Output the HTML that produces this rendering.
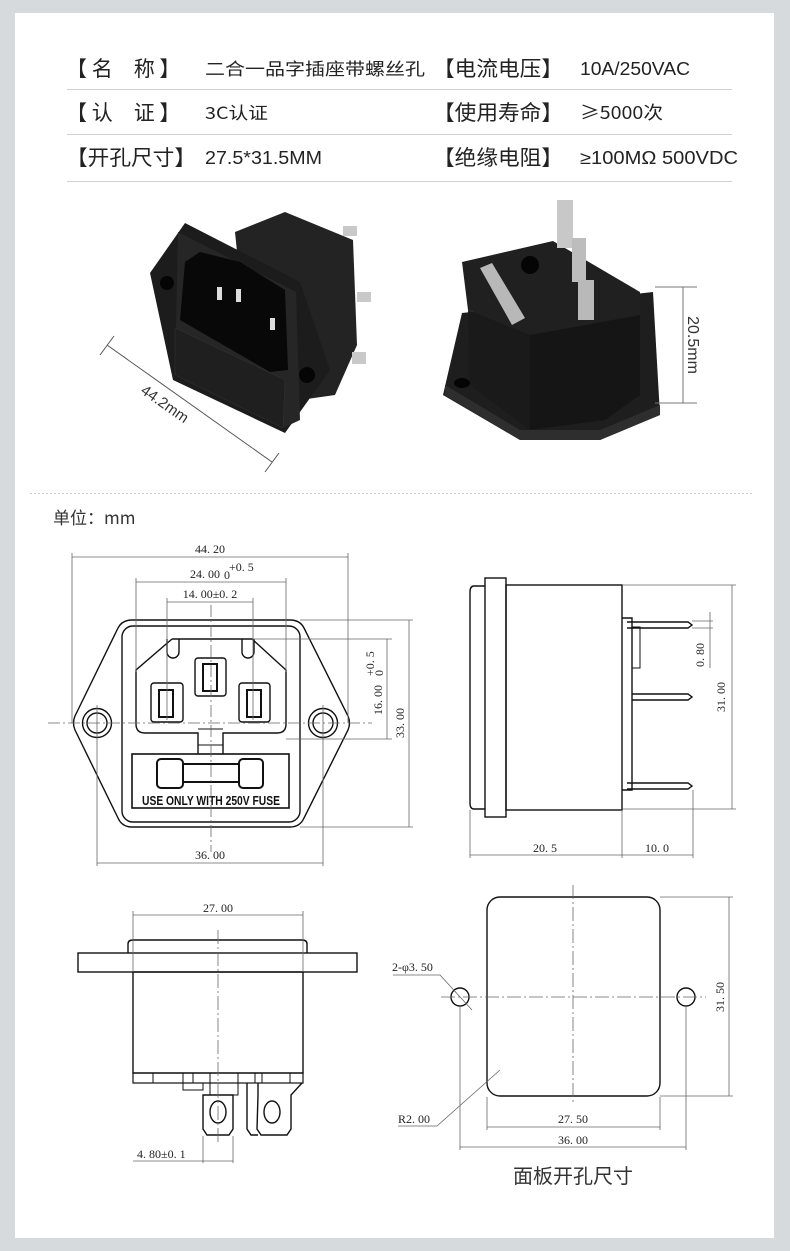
<!DOCTYPE html>
<html><head><meta charset="utf-8"><style>
html,body{margin:0;padding:0;background:#d6dadd;}
svg{display:block;}
text{font-family:"Liberation Sans","Noto Sans CJK SC",sans-serif;}
.cn{font-family:"Noto Sans CJK SC","Liberation Sans",sans-serif;}
.m{font-family:"Liberation Serif","Noto Serif CJK SC",serif;font-size:12px;fill:#222;}
</style></head><body>
<svg width="790" height="1251" viewBox="0 0 790 1251" xmlns="http://www.w3.org/2000/svg">
<rect x="0" y="0" width="790" height="1251" fill="#d6dadd"/>
<rect x="15" y="13" width="759" height="1225" fill="#fff"/>

<!-- table -->
<g fill="#222">
<text x="66" y="76" font-size="21" class="cn">【 名　称 】</text>
<text x="205" y="75" font-size="17" class="cn" textLength="220" lengthAdjust="spacingAndGlyphs">二合一品字插座带螺丝孔</text>
<text x="433" y="76" font-size="21" class="cn" textLength="130" lengthAdjust="spacingAndGlyphs">【电流电压】</text>
<text x="580" y="75" font-size="18" textLength="110" lengthAdjust="spacingAndGlyphs">10A/250VAC</text>
<text x="66" y="120" font-size="21" class="cn">【 认　证 】</text>
<text x="205" y="119" font-size="17" class="cn" textLength="63" lengthAdjust="spacingAndGlyphs">3C认证</text>
<text x="433" y="120" font-size="21" class="cn" textLength="130" lengthAdjust="spacingAndGlyphs">【使用寿命】</text>
<text x="580" y="119" font-size="18" class="cn" textLength="83" lengthAdjust="spacingAndGlyphs">≥5000次</text>
<text x="66" y="165" font-size="21" class="cn" textLength="130" lengthAdjust="spacingAndGlyphs">【开孔尺寸】</text>
<text x="205" y="164" font-size="18" textLength="117" lengthAdjust="spacingAndGlyphs">27.5*31.5MM</text>
<text x="433" y="165" font-size="21" class="cn" textLength="130" lengthAdjust="spacingAndGlyphs">【绝缘电阻】</text>
<text x="580" y="164" font-size="18" textLength="158" lengthAdjust="spacingAndGlyphs">≥100MΩ 500VDC</text>
</g>
<g stroke="#d0d0d0" stroke-width="1">
<line x1="67" y1="89.5" x2="732" y2="89.5"/><line x1="67" y1="134.5" x2="732" y2="134.5"/><line x1="67" y1="181.5" x2="732" y2="181.5"/>
</g>

<!-- left photo -->
<g>
<polygon points="235,232 285,212 353,240 357,345 335,395 300,400 250,380" fill="#232323"/>
<rect x="343" y="226" width="14" height="10" fill="#c9c9c9"/>
<rect x="357" y="292" width="14" height="10" fill="#c9c9c9"/>
<rect x="352" y="352" width="14" height="12" fill="#c9c9c9"/>
<polygon points="185,223 300,282 330,370 285,433 173,380 150,273" fill="#1c1c1c"/>
<polygon points="178,232 296,292 300,420 283,428 175,375" fill="#262626"/>
<polygon points="185,262 200,252 240,262 285,290 288,370 270,372 180,320" fill="#080808"/>
<rect x="217" y="287" width="5" height="13" fill="#ddd"/><rect x="236" y="289" width="5" height="13" fill="#ddd"/><rect x="270" y="318" width="5" height="12" fill="#ddd"/>
<polygon points="175,328 285,380 283,428 175,375" fill="#1f1f1f" stroke="#333" stroke-width="0.5"/>
<circle cx="167" cy="283" r="7" fill="#050505"/><circle cx="307" cy="375" r="8" fill="#050505"/>
<line x1="107" y1="345" x2="272" y2="462" stroke="#555" stroke-width="1"/>
<line x1="100" y1="355" x2="114" y2="336" stroke="#555"/><line x1="265" y1="472" x2="279" y2="453" stroke="#555"/>
<text x="162" y="408" font-size="15" fill="#333" transform="rotate(35 162 408)" text-anchor="middle">44.2mm</text>
</g>

<!-- right photo -->
<g>
<polygon points="462,313 653,292 660,415 600,440 520,440 443,395" fill="#1e1e1e"/>
<polygon points="445,395 520,440 600,440 660,415 660,405 600,430 520,430 445,385" fill="#2e2e2e"/>
<ellipse cx="462" cy="383" rx="8" ry="5" fill="#050505"/>
<polygon points="468,310 530,335 530,430 470,385" fill="#1a1a1a"/>
<polygon points="530,335 640,315 640,395 605,420 530,430" fill="#151515"/>
<polygon points="462,262 553,241 640,292 640,315 530,335 468,310" fill="#202020"/>
<circle cx="530" cy="265" r="9" fill="#050505"/>
<polygon points="480,268 492,263 525,318 512,325" fill="#b8b8b8"/>
<rect x="557" y="200" width="16" height="48" fill="#c8c8c8"/>
<rect x="572" y="238" width="14" height="44" fill="#bdbdbd"/>
<rect x="578" y="280" width="16" height="40" fill="#b9b9b9"/>
<line x1="655" y1="287" x2="697" y2="287" stroke="#777"/><line x1="655" y1="403" x2="697" y2="403" stroke="#777"/>
<line x1="683" y1="287" x2="683" y2="403" stroke="#777"/>
<text x="688" y="345" font-size="16" fill="#333" transform="rotate(90 688 345)" text-anchor="middle">20.5mm</text>
</g>

<line x1="30" y1="493.5" x2="752" y2="493.5" stroke="#c8c8c8" stroke-dasharray="2,2"/>
<text x="53" y="524" font-size="17" class="cn" fill="#333">单位：mm</text>

<!-- front view -->
<g fill="none" stroke="#111" stroke-width="1.4">
<path d="M132,620 L290,620 Q300,620 304,628 L348,716 Q351,723 348,730 L304,818 Q300,827 290,827 L132,827 Q122,827 118,818 L75,730 Q72,723 75,716 L118,628 Q122,620 132,620 Z"/>
<rect x="122" y="626" width="178" height="196" rx="11"/>
<path d="M172,639 L252,639 L286,670 L286,724 Q286,733 277,733 L223,733 L223,754 M198,754 L198,733 L145,733 Q136,733 136,724 L136,670 L172,639"/>
<path d="M198,729 L223,729" stroke-width="1"/>
<path d="M167,639 L167,652 A6,6 0 0 0 179,652 L179,639 M242,639 L242,652 A6,6 0 0 0 254,652 L254,639"/>
<rect x="195" y="658" width="31" height="38" rx="3"/>
<rect x="151" y="683" width="32" height="39" rx="3"/>
<rect x="239" y="683" width="31" height="39" rx="3"/>
<rect x="203" y="664" width="14" height="27" stroke-width="2"/>
<rect x="159" y="690" width="14" height="27" stroke-width="2"/>
<rect x="247" y="690" width="14" height="27" stroke-width="2"/>
<line x1="198" y1="745" x2="223" y2="745" stroke-width="1"/>
<rect x="132" y="754" width="157" height="54" stroke-width="1.6"/>
<rect x="157" y="759" width="26" height="29" rx="4" stroke-width="2"/>
<rect x="239" y="759" width="24" height="29" rx="4" stroke-width="2"/>
<rect x="183" y="764" width="56" height="18" stroke-width="2"/>
<circle cx="97" cy="723" r="14.5"/><circle cx="97" cy="723" r="10"/>
<circle cx="323" cy="723" r="14.5"/><circle cx="323" cy="723" r="10"/>
</g>
<text x="211" y="805" font-size="12.5" font-weight="bold" text-anchor="middle" fill="#111" textLength="138" lengthAdjust="spacingAndGlyphs">USE ONLY WITH 250V FUSE</text>
<g stroke="#666" stroke-width="0.8" fill="none">
<line x1="211" y1="605" x2="211" y2="852" stroke-dasharray="12,3,2,3"/>
<line x1="48" y1="723" x2="372" y2="723" stroke-dasharray="12,3,2,3"/>
<line x1="72" y1="553" x2="72" y2="723"/><line x1="348" y1="553" x2="348" y2="723"/><line x1="72" y1="557" x2="348" y2="557"/>
<line x1="136" y1="578" x2="136" y2="672"/><line x1="286" y1="578" x2="286" y2="672"/><line x1="136" y1="582" x2="286" y2="582"/>
<line x1="167" y1="598" x2="167" y2="720"/><line x1="253" y1="598" x2="253" y2="720"/><line x1="167" y1="602" x2="253" y2="602"/>
<line x1="97" y1="705" x2="97" y2="866"/><line x1="323" y1="705" x2="323" y2="866"/><line x1="97" y1="863" x2="323" y2="863"/>
<line x1="252" y1="639" x2="392" y2="639"/><line x1="286" y1="739" x2="392" y2="739"/><line x1="387" y1="639" x2="387" y2="739"/>
<line x1="300" y1="620" x2="413" y2="620"/><line x1="300" y1="827" x2="413" y2="827"/><line x1="409" y1="620" x2="409" y2="827"/>
</g>
<text x="210" y="553" class="m" text-anchor="middle">44. 20</text>
<text x="205" y="578" class="m" text-anchor="middle">24. 00</text><text x="229" y="571" class="m" font-size="8">+0. 5</text><text x="224" y="579" class="m" font-size="8">0</text>
<text x="210" y="598" class="m" text-anchor="middle">14. 00±0. 2</text>
<text x="210" y="859" class="m" text-anchor="middle">36. 00</text>
<text x="382" y="700" class="m" text-anchor="middle" transform="rotate(-90 382 700)">16. 00</text>
<text x="374" y="676" class="m" font-size="8" transform="rotate(-90 374 676)">+0. 5</text>
<text x="383" y="676" class="m" font-size="8" transform="rotate(-90 383 676)">0</text>
<text x="404" y="723" class="m" text-anchor="middle" transform="rotate(-90 404 723)">33. 00</text>

<!-- side view -->
<g fill="none" stroke="#111" stroke-width="1.4">
<path d="M485,586 L474,586 Q470,586 470,592 L470,803 Q470,809 474,809 L485,809"/>
<rect x="485" y="578" width="21" height="239"/>
<rect x="506" y="585" width="116" height="225"/>
<path d="M622,618 L632,618 L632,790 L622,790"/>
<path d="M632,627 L640,627 L640,668 L632,668" stroke-width="1"/>
<path d="M627,622 L688,622 L692,625 L688,628 L627,628"/>
<path d="M632,694 L688,694 L692,697 L688,700 L632,700"/>
<path d="M627,783 L688,783 L692,786 L688,789 L627,789"/>
</g>
<g stroke="#666" stroke-width="0.8">
<line x1="622" y1="585" x2="736" y2="585"/><line x1="622" y1="809" x2="736" y2="809"/><line x1="732" y1="585" x2="732" y2="809"/>
<line x1="692" y1="621" x2="713" y2="621"/><line x1="692" y1="628" x2="713" y2="628"/><line x1="710" y1="612" x2="710" y2="668"/>
<line x1="470" y1="810" x2="470" y2="858"/><line x1="622" y1="810" x2="622" y2="858"/><line x1="693" y1="790" x2="693" y2="858"/>
<line x1="470" y1="855" x2="693" y2="855"/>
</g>
<text x="725" y="697" class="m" text-anchor="middle" transform="rotate(-90 725 697)">31. 00</text>
<text x="704" y="655" class="m" text-anchor="middle" transform="rotate(-90 704 655)">0. 80</text>
<text x="545" y="852" class="m" text-anchor="middle">20. 5</text>
<text x="657" y="852" class="m" text-anchor="middle">10. 0</text>

<!-- bottom view -->
<g fill="none" stroke="#111" stroke-width="1.4">
<path d="M128,953 L128,944 Q128,940 133,940 L302,940 Q307,940 307,944 L307,953"/>
<rect x="78" y="953" width="279" height="19"/>
<rect x="133" y="972" width="170" height="101"/>
<rect x="133" y="1073" width="170" height="10" stroke-width="1.2"/>
<path d="M153,1073 L153,1083 M183,1073 L183,1090 L203,1090 L203,1083 M193,1073 L193,1083 M210,1073 L210,1095 M238,1073 L238,1095 L230,1095 M255,1073 L255,1083 M262,1073 L262,1083 M290,1073 L290,1083" stroke-width="1"/>
<path d="M203,1095 L233,1095 L233,1129 L229,1135 L207,1135 L203,1129 Z"/>
<ellipse cx="218" cy="1112" rx="8" ry="11"/>
<path d="M247,1083 L247,1129 L251,1135 L258,1135"/>
<path d="M258,1083 L258,1095 L257,1129 L261,1135 L287,1135 L291,1129 L291,1095 L302,1083"/>
<ellipse cx="272" cy="1112" rx="8" ry="11"/>
</g>
<g stroke="#666" stroke-width="0.8">
<line x1="218" y1="930" x2="218" y2="1145" stroke-dasharray="14,3,2,3"/>
<line x1="133" y1="911" x2="133" y2="972"/><line x1="303" y1="911" x2="303" y2="972"/><line x1="133" y1="915" x2="303" y2="915"/>
<line x1="203" y1="1136" x2="203" y2="1163"/><line x1="233" y1="1136" x2="233" y2="1163"/>
<line x1="133" y1="1161" x2="233" y2="1161"/>
</g>
<text x="218" y="912" class="m" text-anchor="middle">27. 00</text>
<text x="137" y="1158" class="m">4. 80±0. 1</text>

<!-- panel cutout -->
<rect x="487" y="897" width="173" height="199" rx="13" fill="none" stroke="#111" stroke-width="1.4"/>
<circle cx="460" cy="997" r="9" fill="none" stroke="#111" stroke-width="1.4"/>
<circle cx="686" cy="997" r="9" fill="none" stroke="#111" stroke-width="1.4"/>
<g stroke="#666" stroke-width="0.8">
<line x1="573" y1="885" x2="573" y2="1105" stroke-dasharray="14,3,2,3"/>
<line x1="441" y1="997" x2="706" y2="997" stroke-dasharray="14,3,2,3"/>
<line x1="660" y1="897" x2="733" y2="897"/><line x1="660" y1="1096" x2="733" y2="1096"/><line x1="729" y1="897" x2="729" y2="1096"/>
<line x1="487" y1="1097" x2="487" y2="1130"/><line x1="660" y1="1097" x2="660" y2="1130"/><line x1="487" y1="1127" x2="660" y2="1127"/>
<line x1="460" y1="1005" x2="460" y2="1150"/><line x1="686" y1="1005" x2="686" y2="1150"/><line x1="460" y1="1147" x2="686" y2="1147"/>
<polyline points="393,975 440,975 472,1010" fill="none"/>
<polyline points="398,1126 437,1126 500,1070" fill="none"/>
</g>
<text x="392" y="971" class="m">2-φ3. 50</text>
<text x="398" y="1123" class="m">R2. 00</text>
<text x="573" y="1123" class="m" text-anchor="middle">27. 50</text>
<text x="573" y="1144" class="m" text-anchor="middle">36. 00</text>
<text x="724" y="997" class="m" text-anchor="middle" transform="rotate(-90 724 997)">31. 50</text>
<text x="573" y="1183" font-size="20" class="cn" fill="#333" text-anchor="middle">面板开孔尺寸</text>
</svg>
</body></html>
